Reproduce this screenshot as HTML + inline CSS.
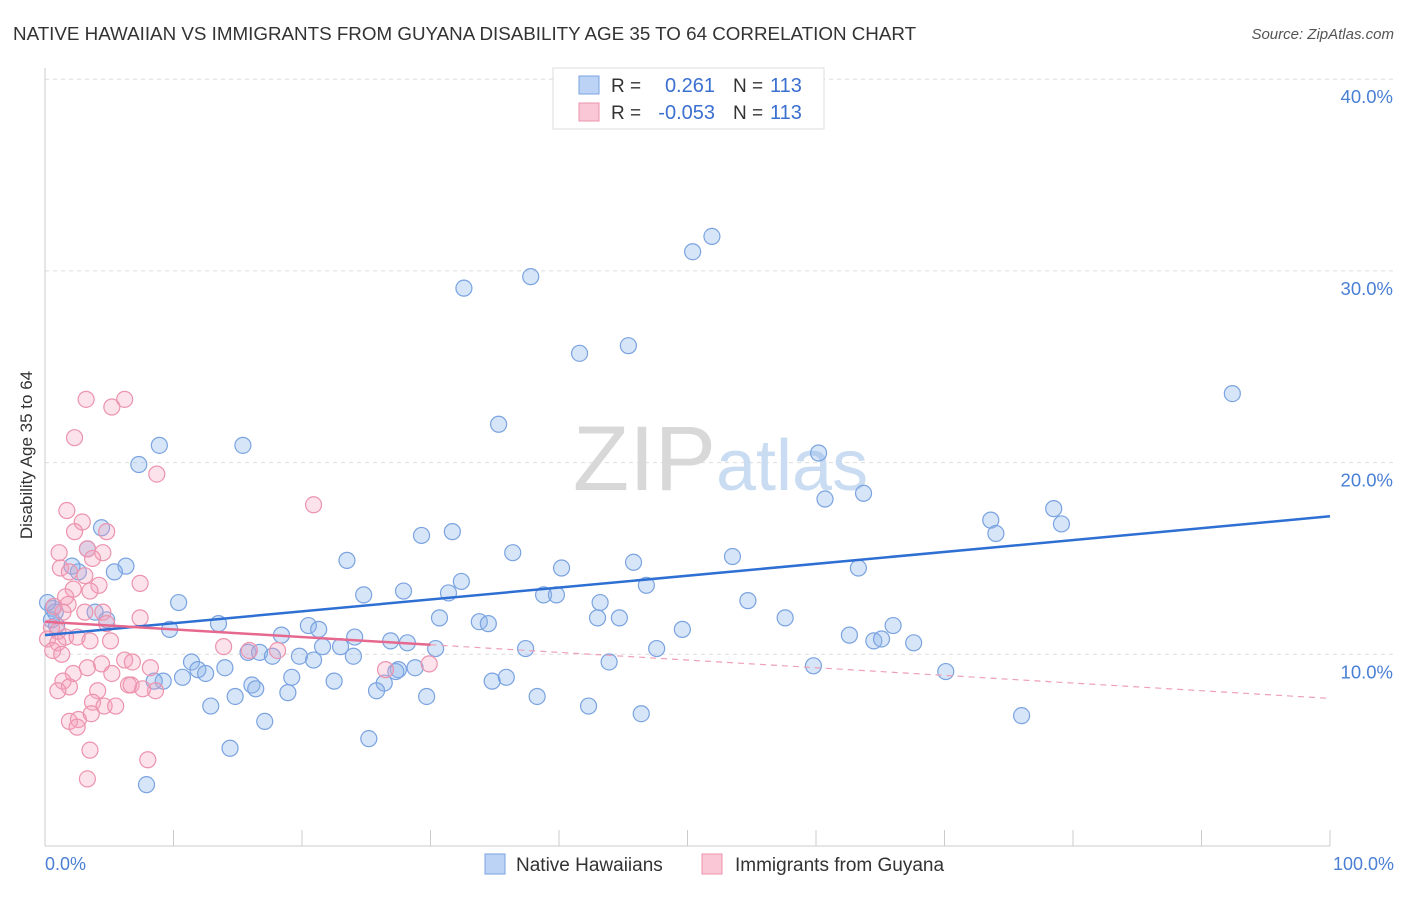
<!DOCTYPE html>
<html><head><meta charset="utf-8"><style>
body{margin:0;background:#fff;font-family:"Liberation Sans",sans-serif;}
svg text{font-family:"Liberation Sans",sans-serif;}
</style></head><body>
<svg width="1406" height="892">
<text x="13" y="40" font-size="18.8" fill="#333">NATIVE HAWAIIAN VS IMMIGRANTS FROM GUYANA DISABILITY AGE 35 TO 64 CORRELATION CHART</text>
<text x="1394" y="39" font-size="15" fill="#555" font-style="italic" text-anchor="end">Source: ZipAtlas.com</text>
<g id="grid"></g>
<text x="716" y="490" font-size="92" fill="#d8d8d8" font-family="Liberation Serif" text-anchor="end">ZIP</text>
<text x="716" y="490" font-size="72" fill="#c9dcf2">atlas</text>
<line x1="45" y1="68" x2="45" y2="846" stroke="#ccc"/>
<line x1="45" y1="846" x2="1330" y2="846" stroke="#ccc"/>
<g id="ticks"></g>
<text x="32" y="455" font-size="17" fill="#333" transform="rotate(-90 32 455)" text-anchor="middle">Disability Age 35 to 64</text>
<text x="45" y="870" font-size="18" fill="#4a7fd4">0.0%</text>
<text x="1394" y="870" font-size="18" fill="#4a7fd4" text-anchor="end">100.0%</text>
<g id="pts"></g>
<g id="trends"></g>
<g>
<rect x="553" y="68" width="271" height="61" fill="#fff" stroke="#ddd"/>
<rect x="579" y="76" width="20" height="18" fill="#bcd3f5" stroke="#7aa3e0"/>
<rect x="579" y="103" width="20" height="18" fill="#f9c7d5" stroke="#ec93ad"/>
<text x="611" y="92" font-size="19" fill="#333">R =</text><text x="715" y="92" font-size="20" fill="#3b6fd0" text-anchor="end">0.261</text>
<text x="733" y="92" font-size="19" fill="#333">N =</text><text x="770" y="92" font-size="20" fill="#3b6fd0">113</text>
<text x="611" y="119" font-size="19" fill="#333">R =</text><text x="715" y="119" font-size="20" fill="#3b6fd0" text-anchor="end">-0.053</text>
<text x="733" y="119" font-size="19" fill="#333">N =</text><text x="770" y="119" font-size="20" fill="#3b6fd0">113</text>
</g>
<g>
<rect x="485" y="854" width="20" height="20" fill="#bcd3f5" stroke="#7aa3e0"/>
<text x="516" y="871" font-size="19" fill="#333">Native Hawaiians</text>
<rect x="702" y="854" width="20" height="20" fill="#f9c7d5" stroke="#ec93ad"/>
<text x="735" y="871" font-size="19" fill="#333">Immigrants from Guyana</text>
</g>
</svg>
<script>
const yTicks=[10,20,30,40];
const yTickLabels=["10.0%","20.0%","30.0%","40.0%"];
const xTicks=[0,10,20,30,40,50,60,70,80,90,100];
const blueX=[32.6,37.8,50.4,51.9,41.6,45.4,92.4,35.3,60.2,60.7,63.7,8.9,15.4,7.3,73.6,78.5,79.1,74.0,4.4,3.3,6.3,5.4,2.6,2.1,0.6,0.8,0.2,3.9,4.8,10.4,9.7,13.5,23.5,29.3,31.7,36.4,40.2,45.8,53.5,63.3,27.9,24.8,32.4,31.4,38.8,39.8,43.2,43.0,44.7,46.8,54.7,57.6,30.7,33.8,34.5,20.5,21.3,18.4,24.1,26.9,28.2,30.4,37.4,47.6,49.6,62.6,64.5,65.1,66.0,67.6,11.4,11.9,12.5,14.0,10.7,9.2,8.5,15.8,16.7,17.7,19.8,20.9,21.6,23.0,24.0,28.8,27.5,27.3,43.9,59.8,70.1,19.2,22.5,26.4,25.8,16.1,16.4,14.8,18.9,12.9,29.7,34.8,35.9,38.3,42.3,46.4,76.0,17.1,25.2,14.4,7.9,0.9,0.5];
const blueY=[29.1,29.7,31.0,31.8,25.7,26.1,23.6,22.0,20.5,18.1,18.4,20.9,20.9,19.9,17.0,17.6,16.8,16.3,16.6,15.5,14.6,14.3,14.3,14.6,12.4,12.2,12.7,12.2,11.8,12.7,11.3,11.6,14.9,16.2,16.4,15.3,14.5,14.8,15.1,14.5,13.3,13.1,13.8,13.2,13.1,13.1,12.7,11.9,11.9,13.6,12.8,11.9,11.9,11.7,11.6,11.5,11.3,11.0,10.9,10.7,10.6,10.3,10.3,10.3,11.3,11.0,10.7,10.8,11.5,10.6,9.6,9.2,9.0,9.3,8.8,8.6,8.6,10.1,10.1,9.9,9.9,9.7,10.4,10.4,9.9,9.3,9.2,9.1,9.6,9.4,9.1,8.8,8.6,8.5,8.1,8.4,8.2,7.8,8.0,7.3,7.8,8.6,8.8,7.8,7.3,6.9,6.8,6.5,5.6,5.1,3.2,11.5,11.8];
const pinkX=[3.2,6.2,5.2,2.3,8.7,20.9,1.7,2.9,2.3,4.8,4.5,1.1,3.3,3.7,1.2,1.9,3.1,7.4,4.2,2.2,3.5,1.6,1.8,0.7,1.4,4.5,3.1,7.4,4.8,0.5,1.0,1.6,2.5,0.2,1.0,3.5,5.1,0.6,1.3,13.9,15.9,18.1,6.2,6.8,8.2,4.4,3.3,2.2,5.2,1.4,1.9,1.0,6.7,8.6,7.6,4.1,3.7,4.6,5.5,2.6,1.9,3.6,2.5,3.5,8.0,3.3,26.5,29.9,6.5];
const pinkY=[23.3,23.3,22.9,21.3,19.4,17.8,17.5,16.9,16.4,16.4,15.3,15.3,15.5,15.0,14.5,14.3,14.1,13.7,13.6,13.4,13.3,13.0,12.6,12.5,12.2,12.2,12.2,11.9,11.6,11.4,11.2,10.9,10.9,10.8,10.6,10.7,10.7,10.2,10.0,10.4,10.2,10.2,9.7,9.6,9.3,9.5,9.3,9.0,9.0,8.6,8.3,8.1,8.4,8.1,8.2,8.1,7.5,7.3,7.3,6.6,6.5,6.9,6.2,5.0,4.5,3.5,9.2,9.5,8.4];
const blueTrend=[[0,11.0],[100,17.2]];
const pinkTrend=[[0,11.7],[30,10.5],[100,7.7]];
const NS="http://www.w3.org/2000/svg";
const X=v=>45+v*12.85, Y=v=>846-v*19.17;
function mk(t,a,p){const e=document.createElementNS(NS,t);for(const k in a)e.setAttribute(k,a[k]);p.appendChild(e);return e;}
const grid=document.getElementById('grid');
yTicks.forEach((t,i)=>{
 const l=mk('line',{x1:45,x2:1394,y1:Y(t),y2:Y(t),stroke:'#ddd','stroke-dasharray':'4,4'},grid);
 
 
 const tx=mk('text',{x:1393,y:Y(t)+24,'font-size':18.5,fill:'#4a7fd4','text-anchor':'end'},grid);
 tx.textContent=yTickLabels[i];
 
 
});
const tk=document.getElementById('ticks');
xTicks.forEach(t=>{
 const l=mk('line',{x1:X(t),x2:X(t),y1:830,y2:846,stroke:'#ccc'},tk);
 
 
});
const pts=document.getElementById('pts');
blueX.forEach((x,i)=>{
 const c=mk('circle',{cx:X(x),cy:Y(blueY[i]),r:8,fill:'rgba(140,180,235,0.35)',stroke:'#7aa3e0','stroke-width':1.2},pts);
 
 
});
pinkX.forEach((x,i)=>{
 const c=mk('circle',{cx:X(x),cy:Y(pinkY[i]),r:8,fill:'rgba(245,160,190,0.3)',stroke:'#ec93ad','stroke-width':1.2},pts);
 
 
});
const tr=document.getElementById('trends');
let b=mk('line',{x1:X(blueTrend[0][0]),y1:Y(blueTrend[0][1]),x2:X(blueTrend[1][0]),y2:Y(blueTrend[1][1]),stroke:'#2e6fd3','stroke-width':2.5},tr);


let p1=mk('line',{x1:X(pinkTrend[0][0]),y1:Y(pinkTrend[0][1]),x2:X(pinkTrend[1][0]),y2:Y(pinkTrend[1][1]),stroke:'#e6688f','stroke-width':2.5},tr);


let p2=mk('line',{x1:X(pinkTrend[1][0]),y1:Y(pinkTrend[1][1]),x2:X(pinkTrend[2][0]),y2:Y(pinkTrend[2][1]),stroke:'#eea0b8','stroke-width':1.2,'stroke-dasharray':'6,5'},tr);


</script>
</body></html>
